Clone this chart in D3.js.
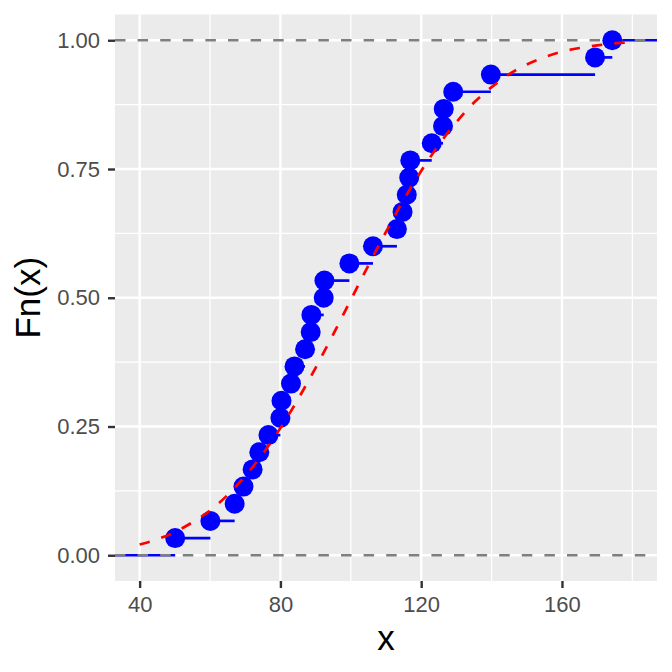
<!DOCTYPE html>
<html>
<head>
<meta charset="utf-8">
<script src="https://cdn.jsdelivr.net/npm/d3@7"></script>
<style>
	body { margin: 0; background: #ffffff; }
	text { font-family: "Liberation Sans", Arial, Helvetica, sans-serif; }
</style>
</head>
<body>
<div id="chart"></div>
<script>

// sorted sample values (x)
let xVals = [50.1, 60.1, 67.0, 69.5, 72.1, 74.0, 76.6, 80.0, 80.3, 83.0,
	84.0, 87.0, 88.6, 88.8, 92.3, 92.5, 99.6, 106.3, 113.1, 114.7,
	115.9, 116.6, 116.9, 123.0, 126.2, 126.4, 129.1, 139.8, 169.4, 174.3];

// empirical cdf height at each sample value
let fnVals = [0.0333, 0.0667, 0.1000, 0.1333, 0.1667, 0.2000, 0.2333, 0.2667, 0.3000, 0.3333,
	0.3667, 0.4000, 0.4333, 0.4667, 0.5000, 0.5333, 0.5667, 0.6000, 0.6333, 0.6667,
	0.7000, 0.7333, 0.7667, 0.8000, 0.8333, 0.8667, 0.9000, 0.9333, 0.9667, 1.0000];

// red dashed reference cdf, read at every 5 units
let curveX = [40, 45, 50, 55, 60, 65, 70, 75, 80, 85, 90, 95, 100, 105, 110,
	115, 120, 125, 130, 135, 140, 145, 150, 155, 160, 165, 170, 175, 180];
let curveY = [0.021, 0.031, 0.045, 0.064, 0.087, 0.117, 0.154, 0.197, 0.247, 0.303,
	0.364, 0.429, 0.496, 0.563, 0.628, 0.690, 0.746, 0.797, 0.841, 0.879,
	0.909, 0.934, 0.953, 0.967, 0.978, 0.985, 0.990, 0.994, 0.996];

// axis ticks and reference lines
let xTicks = [40, 80, 120, 160];
let xMinor = [60, 100, 140, 180];
let yTicks = [0, 0.25, 0.5, 0.75, 1];
let yMinor = [0.125, 0.375, 0.625, 0.875];
let hLines = [0, 1];

let margin = { top: 14.5, right: 15, bottom: 91, left: 115 },
	width = 672 - margin.left - margin.right,
	height = 672 - margin.top - margin.bottom;

let svg = d3
	.select("#chart")
	.append("svg")
	.attr("width", width + margin.left + margin.right)
	.attr("height", height + margin.top + margin.bottom)
	.append("g")
	.attr("transform", "translate(" + margin.left + "," + margin.top + ")");

// scales with ggplot style 5% padding around [40, 180] and [0, 1]
let x = d3.scaleLinear()
	.domain([40 - 7, 180 + 7])
	.range([0, width]);

let y = d3.scaleLinear()
	.domain([-0.05, 1.05])
	.range([height, 0]);

// grey panel
svg.append("rect")
	.attr("width", width)
	.attr("height", height)
	.attr("fill", "#ebebeb");

// minor grid
svg.selectAll(".xminor")
	.data(xMinor)
	.enter().append("line")
	.attr("x1", d => x(d)).attr("x2", d => x(d))
	.attr("y1", 0).attr("y2", height)
	.attr("stroke", "#ffffff").attr("stroke-width", 1.2);

svg.selectAll(".yminor")
	.data(yMinor)
	.enter().append("line")
	.attr("x1", 0).attr("x2", width)
	.attr("y1", d => y(d)).attr("y2", d => y(d))
	.attr("stroke", "#ffffff").attr("stroke-width", 1.2);

// major grid
svg.selectAll(".xmajor")
	.data(xTicks)
	.enter().append("line")
	.attr("x1", d => x(d)).attr("x2", d => x(d))
	.attr("y1", 0).attr("y2", height)
	.attr("stroke", "#ffffff").attr("stroke-width", 2.4);

svg.selectAll(".ymajor")
	.data(yTicks)
	.enter().append("line")
	.attr("x1", 0).attr("x2", width)
	.attr("y1", d => y(d)).attr("y2", d => y(d))
	.attr("stroke", "#ffffff").attr("stroke-width", 2.4);

// horizontal step pieces: from each value to the next one, open ends run to the panel edge
let [xLo, xHi] = x.domain();
let steps = [{ x0: xLo, x1: xVals[0], f: 0 }];
xVals.forEach(function (v, i) {
	steps.push({ x0: v, x1: i < xVals.length - 1 ? xVals[i + 1] : xHi, f: fnVals[i] });
});

svg.append("g")
	.selectAll("line")
	.data(steps)
	.enter().append("line")
	.attr("x1", d => x(d.x0))
	.attr("x2", d => x(d.x1))
	.attr("y1", d => y(d.f))
	.attr("y2", d => y(d.f))
	.attr("stroke", "#0000ff")
	.attr("stroke-width", 2.7);

// grey dashed lines at 0 and 1
svg.append("g")
	.selectAll("line")
	.data(hLines)
	.enter().append("line")
	.attr("x1", 0).attr("x2", width)
	.attr("y1", d => y(d)).attr("y2", d => y(d))
	.attr("stroke", "#7f7f7f")
	.attr("stroke-width", 2.6)
	.attr("stroke-dasharray", "10.5,12.1");

// points
svg.append("g")
	.selectAll("circle")
	.data(xVals)
	.enter().append("circle")
	.attr("cx", d => x(d))
	.attr("cy", (d, i) => y(fnVals[i]))
	.attr("r", 10)
	.attr("fill", "#0000ff");

// red dashed reference curve
let line = d3.line()
	.x((d, i) => x(d))
	.y((d, i) => y(curveY[i]))
	.curve(d3.curveMonotoneX);

svg.append("path")
	.datum(curveX)
	.attr("d", line)
	.attr("fill", "none")
	.attr("stroke", "#ff0000")
	.attr("stroke-width", 2.7)
	.attr("stroke-dasharray", "10.5,12.1");

// axes
let xAxis = svg.append("g")
	.attr("transform", "translate(0," + height + ")")
	.call(d3.axisBottom(x).tickValues(xTicks).tickSize(7).tickPadding(8));

let yAxis = svg.append("g")
	.call(d3.axisLeft(y).tickValues(yTicks).tickFormat(d3.format(".2f")).tickSize(7).tickPadding(8));

[xAxis, yAxis].forEach(function (ax) {
	ax.select(".domain").remove();
	ax.selectAll("line").attr("stroke", "#333333").attr("stroke-width", 2.4);
	ax.selectAll("text")
		.attr("fill", "#4d4d4d")
		.style("font-size", "22px")
		.style("font-family", "'Liberation Sans', Arial, Helvetica, sans-serif");
});

// axis titles
svg.append("text")
	.attr("x", width / 2)
	.attr("y", 650 - margin.top)
	.attr("text-anchor", "middle")
	.style("font-size", "35px")
	.attr("fill", "#000000")
	.text("x");

svg.append("text")
	.attr("transform", "rotate(-90)")
	.attr("x", -height / 2)
	.attr("y", 40 - margin.left)
	.attr("text-anchor", "middle")
	.style("font-size", "35px")
	.attr("fill", "#000000")
	.text("Fn(x)");

</script>
</body>
</html>
